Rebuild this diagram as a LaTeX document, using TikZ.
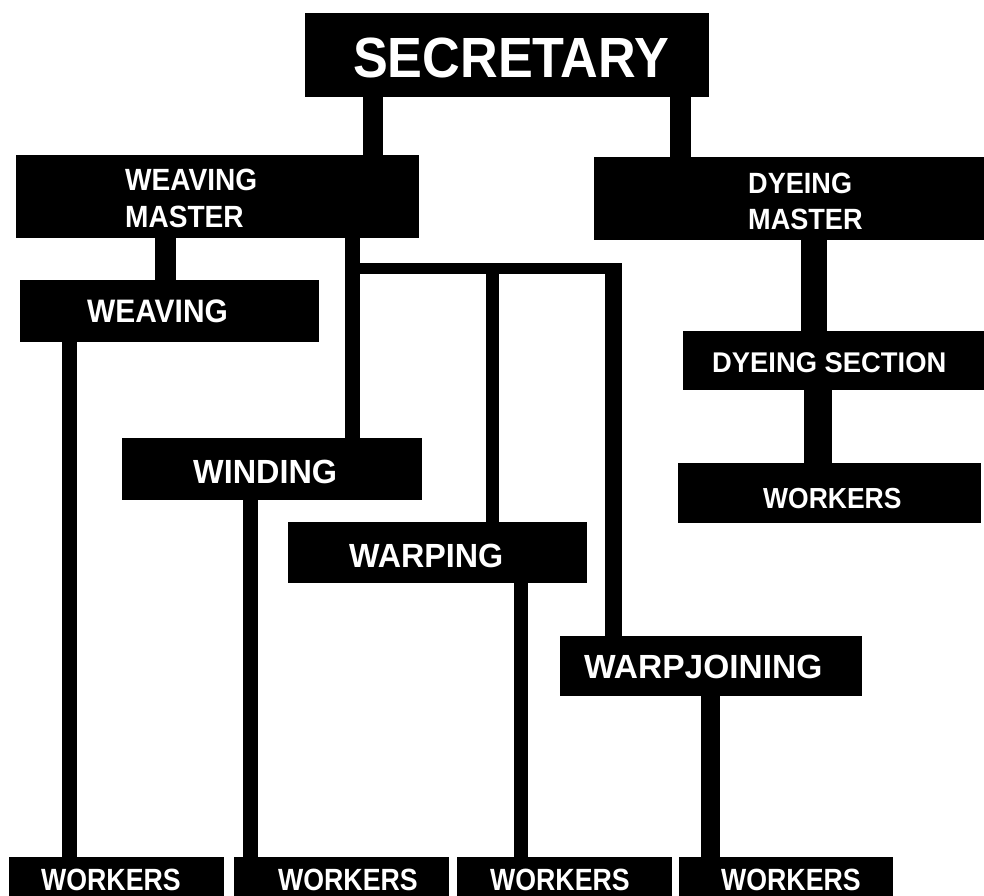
\documentclass[tikz,border=0pt]{standalone}
\usepackage{fontspec}
\usepackage{graphicx}
\setmainfont{Liberation Sans}
\usetikzlibrary{fit}
\newcommand{\orgtxt}[3]{{\fontsize{#1}{#1}\selectfont\scalebox{#2}[1]{#3}}}
\begin{document}
\begin{tikzpicture}[x=1pt,y=-1pt,
  orgbox/.style={fill=black, draw=none, inner sep=0pt},
  lab/.style={text=white, font=\bfseries, anchor=base west, inner sep=0pt},
  conn/.style={draw=black, line width=#1}]
\useasboundingbox (0,0) rectangle (984,895);
\clip (0,0) rectangle (984,895);
% boxes
\node[orgbox, fit={(305,13) (709,97)}] (sec) {};
\node[orgbox, fit={(16,155) (419,238)}] (wm) {};
\node[orgbox, fit={(594,157) (990,240)}] (dm) {};
\node[orgbox, fit={(20,280) (319,342)}] (weav) {};
\node[orgbox, fit={(122,438) (422,500)}] (wind) {};
\node[orgbox, fit={(288,522) (587,583)}] (warp) {};
\node[orgbox, fit={(560,636) (862,696)}] (wj) {};
\node[orgbox, fit={(683,331) (990,390)}] (ds) {};
\node[orgbox, fit={(678,463) (981,523)}] (dw) {};
\node[orgbox, fit={(9,857) (224,905)}] (w1) {};
\node[orgbox, fit={(234,857) (449,905)}] (w2) {};
\node[orgbox, fit={(457,857) (672,905)}] (w3) {};
\node[orgbox, fit={(679,857) (893,905)}] (w4) {};
% connectors
\draw[conn=20pt] (sec.south -| 373,0) -- (wm.north -| 373,0);
\draw[conn=21pt] (sec.south -| 680.5,0) -- (dm.north -| 680.5,0);
\draw[conn=21pt] (wm.south -| 165.5,0) -- (weav.north -| 165.5,0);
\draw[conn=15pt] (weav.south -| 69.5,0) -- (w1.north -| 69.5,0);
\draw[conn=15pt] (wm.south -| 352.5,0) -- (wind.north -| 352.5,0);
\coordinate (jl) at (352.5,268.5);
\coordinate (jr) at (622,268.5);
\coordinate (jm) at (492,268.5);
\coordinate (jc) at (613.5,263);
\draw[conn=11pt] (jl) -- (jr);
\draw[conn=13pt] (jm) -- (warp.north -| jm);
\draw[conn=17pt] (jc) -- (wj.north -| jc);
\draw[conn=15pt] (wind.south -| 250.5,0) -- (w2.north -| 250.5,0);
\draw[conn=14pt] (warp.south -| 521,0) -- (w3.north -| 521,0);
\draw[conn=19pt] (wj.south -| 710.5,0) -- (w4.north -| 710.5,0);
\draw[conn=26pt] (dm.south -| 814,0) -- (ds.north -| 814,0);
\draw[conn=28pt] (ds.south -| 818,0) -- (dw.north -| 818,0);
% labels
\node[lab] (tsec) at (353,77) {\orgtxt{56.7}{0.92}{SECRETARY}};
\node[lab] (twm1) at (125,190) {\orgtxt{30.7}{0.914}{WEAVING}};
\node[lab] (twm2) at (125,227) {\orgtxt{30.7}{0.914}{MASTER}};
\node[lab] (tdm1) at (748,193) {\orgtxt{29.3}{0.925}{DYEING}};
\node[lab] (tdm2) at (748,229) {\orgtxt{29.3}{0.925}{MASTER}};
\node[lab] (tweav) at (87,322) {\orgtxt{32.5}{0.92}{WEAVING}};
\node[lab] (twind) at (193,483) {\orgtxt{33.5}{0.967}{WINDING}};
\node[lab] (twarp) at (349,567) {\orgtxt{33.5}{0.963}{WARPING}};
\node[lab] (twj) at (584,678) {\orgtxt{33.5}{1.0}{WARPJOINING}};
\node[lab] (tds) at (712,372) {\orgtxt{28.5}{0.96}{DYEING SECTION}};
\node[lab] (tdw) at (763,508) {\orgtxt{29}{0.913}{WORKERS}};
\node[lab] (tw1) at (41,890) {\orgtxt{30.7}{0.87}{WORKERS}};
\node[lab] (tw2) at (278,890) {\orgtxt{30.7}{0.87}{WORKERS}};
\node[lab] (tw3) at (490,890) {\orgtxt{30.7}{0.87}{WORKERS}};
\node[lab] (tw4) at (721,890) {\orgtxt{30.7}{0.87}{WORKERS}};
\end{tikzpicture}
\end{document}
